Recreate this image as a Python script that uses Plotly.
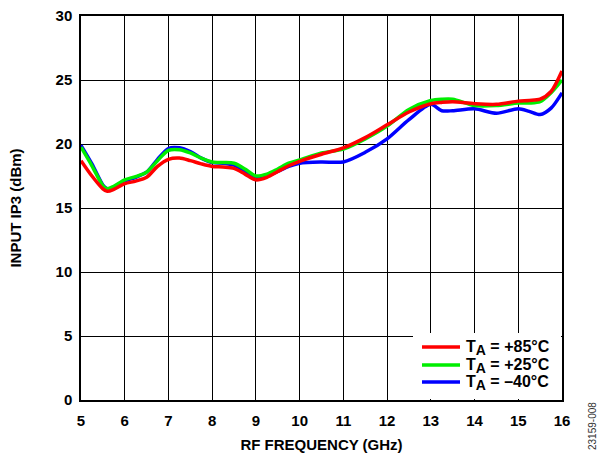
import plotly.graph_objects as go

freq = [5.0, 5.25, 5.5, 5.6, 5.75, 6.0, 6.25, 6.5, 6.75, 7.0, 7.25, 7.5, 7.75, 8.0, 8.25, 8.5,
        8.75, 9.0, 9.25, 9.5, 9.75, 10.0, 10.5, 11.0, 11.5, 12.0, 12.5, 13.0, 13.25, 13.5,
        14.0, 14.5, 15.0, 15.25, 15.5, 15.75, 16.0]

ip3_p85 = [18.7, 17.5, 16.5, 16.3, 16.45, 16.9, 17.1, 17.4, 18.25, 18.8, 18.9, 18.7, 18.45, 18.25, 18.2, 18.1,
           17.65, 17.2, 17.4, 17.85, 18.3, 18.65, 19.2, 19.7, 20.5, 21.5, 22.5, 23.15, 23.25, 23.3,
           23.15, 23.1, 23.35, 23.4, 23.5, 24.1, 25.7]

ip3_p25 = [19.75, 18.3, 16.75, 16.5, 16.7, 17.2, 17.45, 17.8, 18.7, 19.5, 19.55, 19.3, 18.9, 18.6, 18.55, 18.5,
           18.05, 17.5, 17.65, 18.05, 18.5, 18.75, 19.3, 19.6, 20.4, 21.4, 22.7, 23.4, 23.5, 23.5,
           23.0, 23.0, 23.2, 23.2, 23.3, 24.0, 25.0]

ip3_m40 = [19.9, 18.45, 16.8, 16.5, 16.6, 17.1, 17.4, 17.8, 18.8, 19.65, 19.7, 19.4, 18.9, 18.55, 18.5, 18.35,
           17.9, 17.35, 17.5, 17.85, 18.25, 18.5, 18.6, 18.6, 19.35, 20.4, 21.9, 23.1, 22.6, 22.6,
           22.75, 22.4, 22.75, 22.55, 22.3, 22.8, 24.0]

series_names = ["T<sub>A</sub> = +85°C", "T<sub>A</sub> = +25°C", "T<sub>A</sub> = –40°C"]
legend_labels = ["T<sub><span style='font-size:14px'>A</span></sub> = +85°C",
                 "T<sub><span style='font-size:14px'>A</span></sub> = +25°C",
                 "T<sub><span style='font-size:14px'>A</span></sub> = –40°C"]
series_colors = ["#ff0000", "#00ee00", "#0000ff"]

x_ticks = [5, 6, 7, 8, 9, 10, 11, 12, 13, 14, 15, 16]
y_ticks = [0, 5, 10, 15, 20, 25, 30]

FONT = "Liberation Sans, Arial, sans-serif"

# plot area in pixels (for layout placement only)
L, R, T, B = 81, 562, 16, 400
W, H = 600, 453
pw, ph = R - L, B - T


def px_x(x):
    return (x - L) / pw


def px_y(y):
    return (B - y) / ph


fig = go.Figure()
data = [ip3_p85, ip3_p25, ip3_m40]
for i in [2, 1, 0]:
    fig.add_trace(go.Scatter(
        x=freq, y=data[i], mode="lines", name=series_names[i],
        line=dict(color=series_colors[i], width=3.5, shape="spline", smoothing=0.8),
        showlegend=False,
    ))

axis_common = dict(
    showgrid=True, gridcolor="black", gridwidth=1.2,
    showline=True, linecolor="black", linewidth=1.5, mirror=True,
    zeroline=False, ticks="", automargin=False,
    tickfont=dict(family=FONT, size=15, color="black", weight="bold"),
)

fig.update_xaxes(range=[5, 16], tickvals=x_ticks, ticklabelstandoff=6,
                 title=dict(text="RF FREQUENCY (GHz)", font=dict(family=FONT, size=15, color="black", weight="bold"), standoff=14),
                 **axis_common)
fig.update_yaxes(range=[0, 30], tickvals=y_ticks, ticklabelstandoff=4,
                 title=dict(text="INPUT IP3 (dBm)", font=dict(family=FONT, size=15, color="black", weight="bold"), standoff=30),
                 **axis_common)

shapes = [dict(type="rect", xref="paper", yref="paper",
               x0=px_x(413), x1=px_x(R - 1), y0=px_y(B - 1), y1=px_y(333),
               fillcolor="white", line=dict(width=0), layer="above")]
annotations = []
leg_y = [347, 365, 382]
for i in range(3):
    shapes.append(dict(type="line", xref="paper", yref="paper",
                       x0=px_x(422), x1=px_x(460), y0=px_y(leg_y[i]), y1=px_y(leg_y[i]),
                       line=dict(color=series_colors[i], width=3.5), layer="above"))
    annotations.append(dict(text=legend_labels[i], xref="paper", yref="paper",
                            x=px_x(464), y=px_y(leg_y[i] + 1), xanchor="left", yanchor="middle",
                            showarrow=False,
                            font=dict(family=FONT, size=16, color="black", weight="bold")))

annotations.append(dict(
    text="23159-008", xref="paper", yref="paper",
    x=px_x(592), y=px_y(426), xanchor="center", yanchor="middle",
    showarrow=False, textangle=-90,
    font=dict(family=FONT, size=10, color="#333333"),
))

fig.update_layout(
    width=W, height=H,
    margin=dict(l=L, r=W - R, t=T, b=H - B, autoexpand=False),
    paper_bgcolor="white", plot_bgcolor="white",
    showlegend=False,
    shapes=shapes,
    annotations=annotations,
)

fig.write_html("out.html")
